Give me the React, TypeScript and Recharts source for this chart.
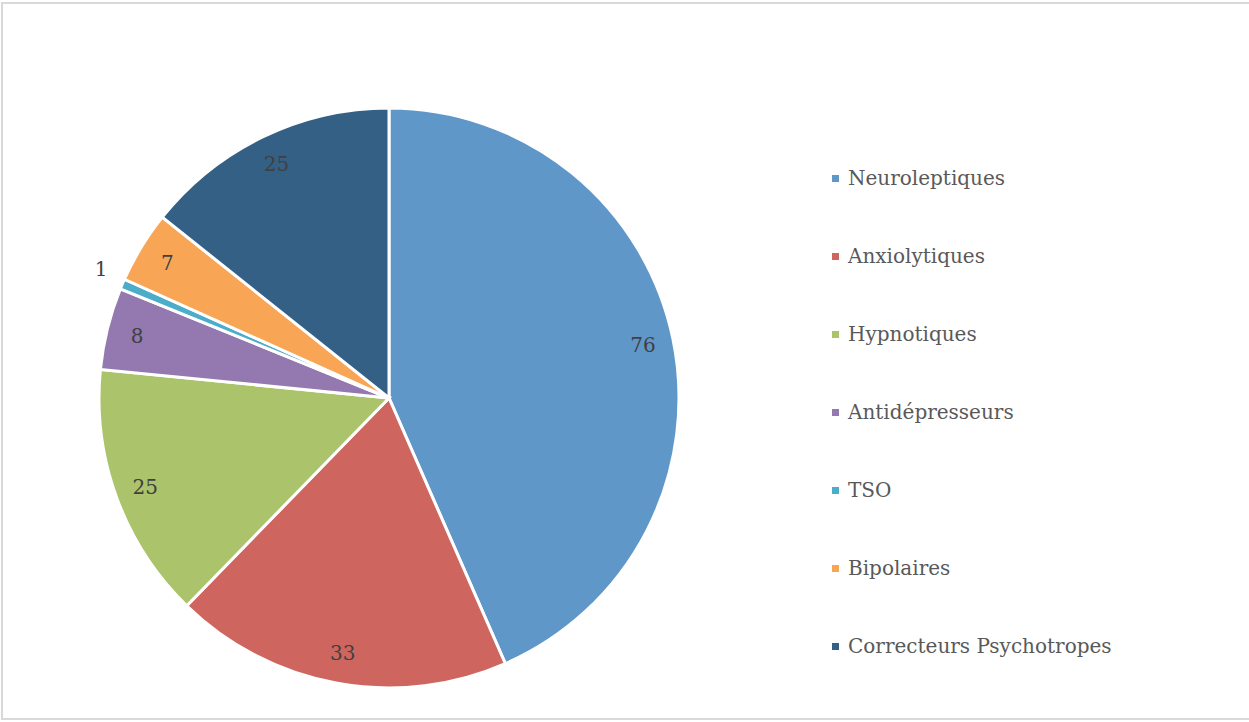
import React from "react";
import { PieChart, Pie, Cell, Legend } from "recharts";

const categories = [
  "Neuroleptiques",
  "Anxiolytiques",
  "Hypnotiques",
  "Antidépresseurs",
  "TSO",
  "Bipolaires",
  "Correcteurs Psychotropes",
];
const values = [76, 33, 25, 8, 1, 7, 25];
const colors = ["#6097C9", "#CE665F", "#ABC46B", "#9479B0", "#4BADC9", "#F8A656", "#356086"];

const data = categories.map((name, i) => ({ name, value: values[i] }));

const FONT = "'DejaVu Serif', serif";
const RAD = Math.PI / 180;

const renderLabel = (props: any) => {
  const { cx, cy, midAngle, outerRadius, value } = props;
  const small = value / values.reduce((a, b) => a + b, 0) < 0.02;
  const r = small ? outerRadius * 1.08 : outerRadius * 0.895;
  const x = cx + r * Math.cos(-midAngle * RAD);
  const y = cy + r * Math.sin(-midAngle * RAD) - (small ? 6 : 0);
  return (
    <text
      x={x}
      y={y}
      fill="#404040"
      fontFamily={FONT}
      fontSize={20}
      textAnchor="middle"
      dominantBaseline="central"
    >
      {value}
    </text>
  );
};

const renderLegend = () => (
  <div style={{ fontFamily: FONT }}>
    {categories.map((c, i) => (
      <div
        key={c}
        style={{
          height: 78,
          display: "flex",
          alignItems: "center",
          fontSize: 20,
          color: "#595959",
        }}
      >
        <span
          style={{
            display: "inline-block",
            width: 7,
            height: 7,
            background: colors[i],
            marginRight: 9,
          }}
        />
        {c}
      </div>
    ))}
  </div>
);

export default function App() {
  return (
    <div style={{ position: "absolute", left: 0, top: 0, width: 1249, height: 722, background: "#fff", overflow: "hidden" }}>
      <div
        style={{
          position: "absolute",
          left: 1,
          top: 2,
          width: 1260,
          height: 718,
          border: "2px solid #d9d9d9",
          boxSizing: "border-box",
        }}
      />
      <PieChart
        width={1249}
        height={722}
        margin={{ top: 0, right: 0, bottom: 0, left: 0 }}
        style={{ position: "absolute", left: 0, top: 0 }}
      >
        <Pie
          data={data}
          dataKey="value"
          nameKey="name"
          cx={389}
          cy={398}
          outerRadius={290}
          startAngle={90}
          endAngle={-270}
          stroke="#ffffff"
          strokeWidth={3}
          label={renderLabel}
          labelLine={false}
          isAnimationActive={false}
        >
          {data.map((d, i) => (
            <Cell key={d.name} fill={colors[i]} />
          ))}
        </Pie>
        <Legend
          content={renderLegend}
          wrapperStyle={{ position: "absolute", left: 832, top: 139, width: 400 }}
        />
      </PieChart>
    </div>
  );
}
